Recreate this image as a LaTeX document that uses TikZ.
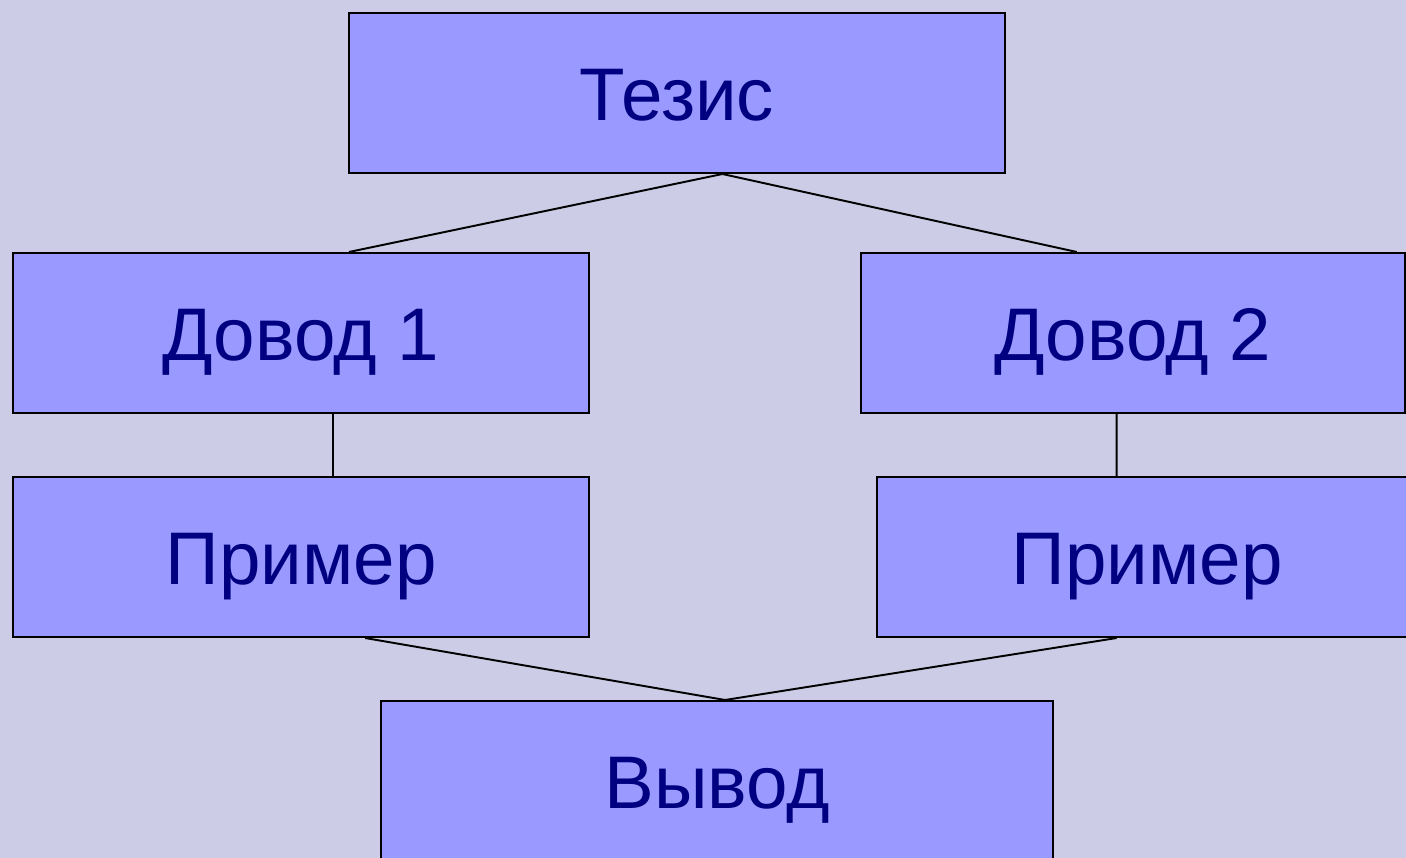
\documentclass[tikz,border=0pt]{standalone}
\usepackage{fontspec}
\setmainfont{Liberation Sans}
\usetikzlibrary{calc}
\definecolor{slidebg}{HTML}{CCCCE6}
\definecolor{boxfill}{HTML}{9999FF}
\definecolor{boxtext}{HTML}{000080}
\tikzset{
  argbox/.style={draw=black, line width=0.55pt, fill=boxfill, text=boxtext,
    minimum height=1.60cm, inner sep=0pt, text height=19pt, text depth=3.6pt,
    font=\fontsize{21.2}{25}\selectfont},
  link/.style={-, line width=0.55pt, black}
}

\begin{document}
\begin{tikzpicture}[x=0.01cm, y=-0.01cm]
  % Background and clipping
  \fill[slidebg] (0,0) rectangle (1406,858);
  \useasboundingbox (0,0) rectangle (1406,858);
  \clip (0,0) rectangle (1406,858);

  % Boxes
  \node[argbox, minimum width=6.56cm] (tezis) at (677,93) {Тезис};
  \node[argbox, minimum width=5.76cm] (dovod1) at (301,333) {Довод 1};
  \node[argbox, minimum width=5.44cm] (dovod2) at (1133,333) {Довод 2};
  \node[argbox, minimum width=5.76cm] (primer1) at (301,557) {Пример};
  \node[argbox, minimum width=5.40cm] (primer2) at (1147,557) {Пример};
  \node[argbox, minimum width=6.72cm] (vyvod) at (717,781) {Вывод};

  % Connectors
  \draw[link] ($(tezis.south west)!0.569!(tezis.south east)$) -- ($(dovod1.north west)!0.583!(dovod1.north east)$);
  \draw[link] ($(tezis.south west)!0.569!(tezis.south east)$) -- ($(dovod2.north west)!0.397!(dovod2.north east)$);
  \draw[link] ($(dovod1.south west)!0.556!(dovod1.south east)$) -- ($(primer1.north west)!0.556!(primer1.north east)$);
  \draw[link] ($(dovod2.south west)!0.470!(dovod2.south east)$) -- ($(primer2.north west)!0.444!(primer2.north east)$);
  \draw[link] ($(primer1.south west)!0.611!(primer1.south east)$) -- ($(vyvod.north west)!0.512!(vyvod.north east)$);
  \draw[link] ($(primer2.south west)!0.444!(primer2.south east)$) -- ($(vyvod.north west)!0.512!(vyvod.north east)$);
\end{tikzpicture}
\end{document}
